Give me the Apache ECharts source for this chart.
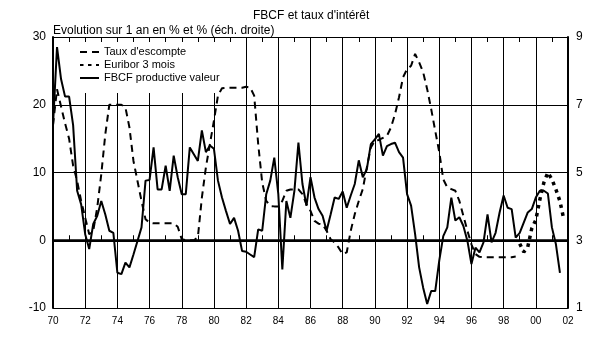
<!DOCTYPE html>
<html>
<head>
<meta charset="utf-8">
<script src="https://cdn.jsdelivr.net/npm/echarts@6/dist/echarts.min.js"></script>
<style>
  html, body { margin: 0; padding: 0; background: #fff; }
  #chart { width: 600px; height: 343px; }
</style>
</head>
<body>
<div id="chart"></div>
<script>
// Quarterly series. FBCF: year-on-year change in % (left axis).
// Discount rate and 3-month Euribor: level in % (right axis).
const fbcfStart = 1970;
const fbcf = [
  17.0, 28.5, 23.8, 21.2,
  21.2, 17.0, 7.3, 5.3,
  0.9, -1.3, 2.4, 3.6,
  5.8, 3.8, 1.4, 1.1,
  -4.8, -5.0, -3.3, -4.0,
  -2.1, -0.1, 1.9, 8.8,
  8.9, 13.7, 7.5, 7.5,
  11.0, 7.3, 12.5, 9.3,
  6.8, 6.8, 13.7, 12.7,
  11.7, 16.2, 13.0, 14.0,
  13.5, 8.8, 6.3, 4.3,
  2.4, 3.3, 1.4, -1.6,
  -1.7, -2.1, -2.5, 1.6,
  1.4, 6.8, 8.8, 12.2,
  6.8, -4.3, 5.8, 3.3,
  7.3, 14.4, 8.3, 5.1,
  9.3, 6.3, 4.6, 3.6,
  1.4, 3.8, 6.3, 6.1,
  7.2, 4.8, 6.6, 8.3,
  11.8, 9.3, 10.5, 14.2,
  14.9, 15.7, 12.5, 13.9,
  14.2, 14.4, 13.0, 12.2,
  6.8, 5.1, 0.9, -4.0,
  -7.0, -9.4, -7.5, -7.5,
  -3.0, 0.6, 1.9, 6.3,
  2.9, 3.4, 2.1, -0.1,
  -3.5, -1.1, -1.8, -0.3,
  3.8, -0.3, 1.1, 4.1,
  6.6, 4.8, 4.6, 0.4,
  1.1, 2.6, 4.1, 4.6,
  6.3, 7.3, 7.3, 6.9,
  1.9, -0.6, -4.8
];

const escompteStart = 1970;
const escompte = [
  6.40, 7.46, 6.95, 6.45,
  6.00, 5.20, 4.75, 4.16,
  3.67, 3.18, 3.28, 3.97,
  4.95, 6.13, 7.00, 7.00,
  7.00, 7.00, 6.92, 6.33,
  5.34, 4.75, 4.16, 3.62,
  3.52, 3.50, 3.50, 3.50,
  3.50, 3.50, 3.50, 3.40,
  3.03, 3.00, 3.00, 3.00,
  3.08, 4.26, 5.15, 5.84,
  6.53, 7.27, 7.49, 7.50,
  7.50, 7.50, 7.50, 7.50,
  7.53, 7.51, 7.27, 5.84,
  4.70, 4.16, 4.01, 4.00,
  4.00, 4.16, 4.46, 4.50,
  4.50, 4.50, 4.36, 4.06,
  3.87, 3.57, 3.49, 3.47,
  3.28, 3.03, 2.93, 2.78,
  2.59, 2.64, 3.28, 3.77,
  4.16, 4.51, 5.15, 5.74,
  5.94, 5.96, 6.02, 6.08,
  6.33, 6.72, 7.22, 7.81,
  8.05, 8.15, 8.50, 8.25,
  7.96, 7.46, 6.87, 6.23,
  5.60, 4.80, 4.56, 4.51,
  4.46, 4.16, 3.72, 3.28,
  2.88, 2.59, 2.51, 2.50,
  2.50, 2.50, 2.50, 2.50,
  2.50, 2.50, 2.50, 2.52
];

const euriborStart = 1999;
const euribor = [
  2.90, 2.65, 2.80, 3.35,
  3.60, 4.20, 4.70, 5.00,
  4.80, 4.50, 4.15, 3.60
];

// Axis settings
const xMin = 1970, xMax = 2002, xStep = 2;
const leftMin = -10, leftMax = 30, leftStep = 10;
const rightMin = 1, rightMax = 9, rightStep = 2;

const names = ["Taux d'escompte", 'Euribor 3 mois', 'FBCF productive valeur'];

function quarterly(start, values) {
  return values.map((v, i) => [start + i / 4, v]);
}

const FONT = 'Arial, "Liberation Sans", sans-serif';
const hiddenSymbol = { color: 'rgba(0,0,0,0)', borderWidth: 0, opacity: 0 };
const chart = echarts.init(document.getElementById('chart'), null, { renderer: 'canvas' });

chart.setOption({
  animation: false,
  backgroundColor: '#fff',
  textStyle: { fontFamily: FONT, color: '#000' },
  title: [
    {
      text: "FBCF et taux d'intérêt",
      left: 253, top: 10, padding: 0,
      textStyle: { fontFamily: FONT, fontSize: 12, fontWeight: 'normal', color: '#000' }
    },
    {
      text: 'Evolution sur 1 an en % et % (éch. droite)',
      left: 53, top: 25, padding: 0,
      textStyle: { fontFamily: FONT, fontSize: 12, fontWeight: 'normal', color: '#000' }
    }
  ],
  // White panel behind the legend: hides the grid lines, stays under the curves
  graphic: [{
    type: 'rect', z: 1, silent: true,
    shape: { x: 72, y: 42, width: 146, height: 51 },
    style: { fill: '#fff' }
  }],
  legend: {
    data: names,
    orient: 'vertical',
    left: 75, top: 42,
    padding: [4, 4, 9, 4],
    itemWidth: 19, itemHeight: 10, itemGap: 1,
    itemStyle: hiddenSymbol,
    textStyle: { fontFamily: FONT, fontSize: 11, color: '#000', lineHeight: 12 }
  },
  grid: { left: 53, right: 32, top: 37, bottom: 35, containLabel: false },
  xAxis: [
    {
      type: 'value', min: xMin, max: xMax, interval: xStep,
      axisLine: { show: true, lineStyle: { color: '#000', width: 2 } },
      axisTick: { show: false, inside: true },
      minorTick: { show: true, splitNumber: 2, length: 5, lineStyle: { color: '#000', width: 1 } },
      splitLine: { show: true, lineStyle: { color: '#000', width: 1 } },
      axisLabel: {
        fontFamily: FONT, fontSize: 10, color: '#000', margin: 8,
        formatter: v => String(v).slice(2)
      }
    },
    {
      type: 'value', min: xMin, max: xMax, interval: xStep, position: 'top',
      axisLine: { show: true, lineStyle: { color: '#000', width: 1 } },
      axisTick: { show: false, inside: true },
      minorTick: { show: true, splitNumber: 2, length: 5, lineStyle: { color: '#000', width: 1 } },
      splitLine: { show: false },
      axisLabel: { show: false }
    }
  ],
  yAxis: [
    {
      type: 'value', min: leftMin, max: leftMax, interval: leftStep,
      axisLine: { show: true, lineStyle: { color: '#000', width: 2 } },
      axisTick: { show: false },
      splitLine: { show: true, lineStyle: { color: '#000', width: 1 } },
      axisLabel: { fontFamily: FONT, fontSize: 12, color: '#000', margin: 7 }
    },
    {
      type: 'value', min: rightMin, max: rightMax, interval: rightStep, position: 'right',
      axisLine: { show: true, lineStyle: { color: '#000', width: 2 } },
      axisTick: { show: false },
      splitLine: { show: false },
      axisLabel: { fontFamily: FONT, fontSize: 12, color: '#000', margin: 8 }
    }
  ],
  series: [
    {
      name: names[0], type: 'line', yAxisIndex: 1, symbol: 'none', z: 3,
      data: quarterly(escompteStart, escompte),
      lineStyle: { color: '#000', width: 2, type: [7, 5] },
      itemStyle: hiddenSymbol
    },
    {
      name: names[1], type: 'line', yAxisIndex: 1, symbol: 'none', z: 3,
      data: quarterly(euriborStart, euribor),
      lineStyle: { color: '#000', width: 3.5, type: [3.5, 4.5] },
      itemStyle: hiddenSymbol
    },
    {
      name: names[2], type: 'line', yAxisIndex: 0, symbol: 'none', z: 3,
      data: quarterly(fbcfStart, fbcf),
      lineStyle: { color: '#000', width: 2 },
      itemStyle: hiddenSymbol,
      markLine: {
        silent: true, symbol: ['none', 'none'], label: { show: false },
        lineStyle: { color: '#000', width: 2.5, type: 'solid' },
        data: [{ yAxis: 0 }]
      }
    }
  ]
});
</script>
</body>
</html>
